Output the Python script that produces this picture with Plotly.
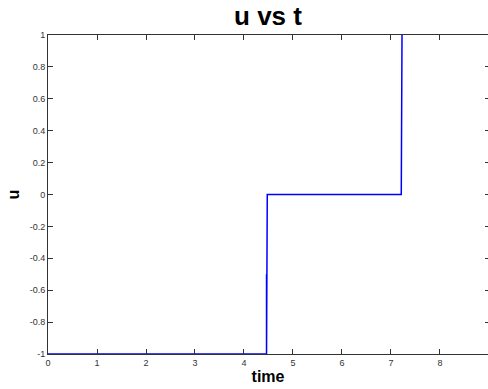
import plotly.graph_objects as go

time = [0, 4.46, 4.46, 4.46, 4.475, 4.475, 7.21, 7.21, 7.21, 7.225, 7.225]
u = [-1, -1, -0.5, -1, -1, 0, 0, 0.5, 0, 0, 1]

x_ticks = [0, 1, 2, 3, 4, 5, 6, 7, 8]
y_ticks = [-1, -0.8, -0.6, -0.4, -0.2, 0, 0.2, 0.4, 0.6, 0.8, 1]
y_labels = ["-1", "-0.8", "-0.6", "-0.4", "-0.2", "0", "0.2", "0.4", "0.6", "0.8", "1"]

fig = go.Figure()
fig.add_trace(go.Scatter(x=time, y=u, mode="lines",
                         line=dict(color="#0000ff", width=1.5),
                         showlegend=False, cliponaxis=True))
# invisible trace for right axis ticks
fig.add_trace(go.Scatter(x=[0], y=[0], yaxis="y2", mode="markers",
                         marker=dict(opacity=0), showlegend=False, hoverinfo="skip"))

tickfont = dict(family="Liberation Sans, Arial", size=9, color="#333333")
fig.update_layout(
    width=488, height=389,
    margin=dict(l=48, r=0, t=35, b=35),
    paper_bgcolor="white", plot_bgcolor="white",
    title=dict(text="<b>u vs t</b>", x=0.5, xref="paper", xanchor="center",
               y=1 - 16 / 389, yref="container", yanchor="middle",
               font=dict(family="Liberation Sans, Arial", size=26, color="black")),
    xaxis=dict(range=[0, 8.98], tickvals=x_ticks, ticks="inside", ticklen=5,
               tickcolor="#333333", showline=True, linecolor="#333333", linewidth=1,
               mirror="ticks", showgrid=False, zeroline=False, tickfont=tickfont,
               title=dict(text="<b>time</b>", standoff=4,
                          font=dict(family="Liberation Sans, Arial", size=16, color="black"))),
    yaxis=dict(range=[-1, 1], tickvals=y_ticks, ticktext=y_labels, ticks="inside", ticklen=5,
               tickcolor="#333333", showline=True, linecolor="#333333", linewidth=1,
               showgrid=False, zeroline=False, tickfont=tickfont,
               title=dict(text="<b>u</b>", standoff=6,
                          font=dict(family="Liberation Sans, Arial", size=16, color="black"))),
    yaxis2=dict(range=[-1, 1], tickvals=y_ticks, overlaying="y", side="right",
                ticks="inside", ticklen=3, tickcolor="#333333", showline=False,
                showticklabels=False, showgrid=False, zeroline=False),
)
fig.write_html("out.html")
